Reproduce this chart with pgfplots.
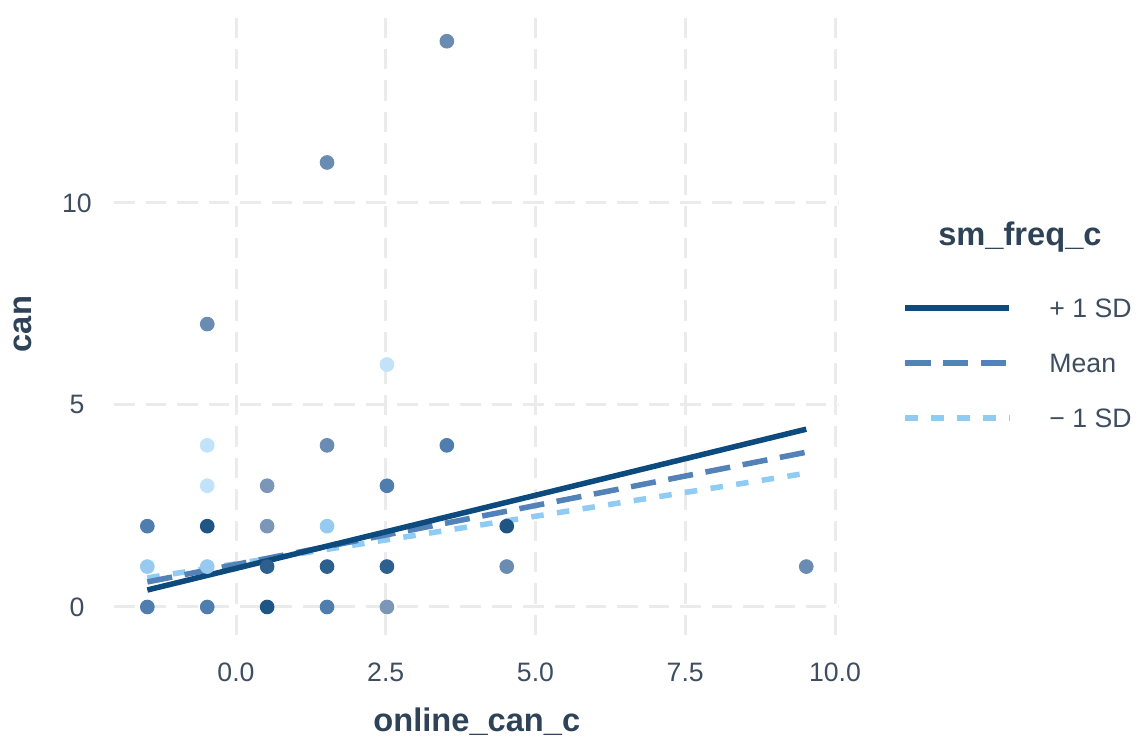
\documentclass[border=0pt]{standalone}
\usepackage{fontspec}
\setmainfont{Liberation Sans}
\usepackage{pgfplots}
\pgfplotsset{compat=1.18}
\definecolor{gridc}{HTML}{EBEBEB}
\definecolor{tickc}{HTML}{3E4E60}
\definecolor{titc}{HTML}{2F4358}
\definecolor{c1}{HTML}{C2E2FA}
\definecolor{c2}{HTML}{96CAF0}
\definecolor{c3}{HTML}{7B96B6}
\definecolor{c4}{HTML}{6B8CB2}
\definecolor{c5}{HTML}{4F7DAD}
\definecolor{c6}{HTML}{2D5F8F}
\definecolor{c7}{HTML}{1E5585}
\definecolor{lhi}{HTML}{0D4A7E}
\definecolor{lmid}{HTML}{5282B8}
\definecolor{llo}{HTML}{8FCBF3}
\begin{document}
\begin{tikzpicture}
\useasboundingbox (-47.67pt,-43.2pt) rectangle (427.33pt,264.7pt);
\begin{axis}[
  at={(0,0)}, anchor=south west, scale only axis,
  width=302pt, height=259.3pt,
  xmin=-2.03, xmax=10.07, ymin=-0.7, ymax=14.7,
  axis line style={draw=none}, major tick length=0pt, tick style={draw=none},
  xtick={0,2.5,5,7.5,10}, xticklabels={0.0,2.5,5.0,7.5,10.0},
  ytick={0,5,10}, yticklabels={0,5,10},
  /pgf/number format/assume math mode=true,
  grid=major,
  grid style={gridc, line width=1.25pt, dash pattern=on 8.5pt off 4.6pt},
  xticklabel style={anchor=center, yshift=-15.3pt, font=\fontsize{11.1}{13}\selectfont, text=tickc},
  yticklabel style={anchor=center, xshift=-15.6pt, font=\fontsize{11.1}{13}\selectfont, text=tickc},
  xlabel={online\_can\_c},
  xlabel style={at={(axis description cs:0.5,-0.1554)}, anchor=base, font=\bfseries\fontsize{13.6}{16}\selectfont, text=titc},
  clip=false,
  legend style={draw=none, fill=none, inner sep=0pt, at={(1.0868,0.4377)}, anchor=west,
    row sep=14.9pt, column sep=15.6pt, font=\fontsize{11.1}{13}\selectfont, text=tickc,
    nodes={inner sep=0pt, text height=8pt, text depth=0pt}},
  legend cell align=left,
  legend image code/.code={\draw[#1, line cap=butt] (0pt,0pt) -- (43.3pt,0pt);},
  reverse legend,
]
\addplot[scatter, only marks, scatter src=explicit symbolic, mark size=2.85pt, forget plot,
  scatter/classes={
    a={mark=*, fill=c1, draw=c1},
    b={mark=*, fill=c2, draw=c2},
    c={mark=*, fill=c3, draw=c3},
    d={mark=*, fill=c4, draw=c4},
    e={mark=*, fill=c5, draw=c5},
    f={mark=*, fill=c6, draw=c6},
    g={mark=*, fill=c7, draw=c7}}]
  table[meta=c] {
x y c
-1.48 0 e
-1.48 1 b
-1.48 2 e
-0.48 0 e
-0.48 1 b
-0.48 2 g
-0.48 3 a
-0.48 4 a
-0.48 7 d
0.52 0 g
0.52 1 f
0.52 2 c
0.52 3 c
1.52 0 e
1.52 1 f
1.52 2 b
1.52 4 d
1.52 11 d
2.52 0 c
2.52 1 f
2.52 3 e
2.52 6 a
3.52 4 e
3.52 14 d
4.52 1 d
4.52 2 g
9.52 1 d
};
\addplot[llo, line width=2.3pt, dash pattern=on 5.2pt off 5.6pt] coordinates {(-1.48,0.72) (9.52,3.31)};
\addlegendentry{− 1 SD}
\addplot[lmid, line width=2.3pt, dash pattern=on 10.5pt off 5.3pt] coordinates {(-1.48,0.62) (9.52,3.83)};
\addlegendentry{Mean}
\addplot[lhi, line width=2.3pt] coordinates {(-1.48,0.42) (9.52,4.40)};
\addlegendentry{+ 1 SD}
\end{axis}
\node[rotate=90, anchor=center, font=\bfseries\fontsize{13.6}{16}\selectfont, text=titc] at (-38.1pt,129.65pt) {can};
\node[anchor=base, font=\bfseries\fontsize{13.6}{16}\selectfont, text=titc] at (377.3pt,162.6pt) {sm\_freq\_c};
\end{tikzpicture}
\end{document}
